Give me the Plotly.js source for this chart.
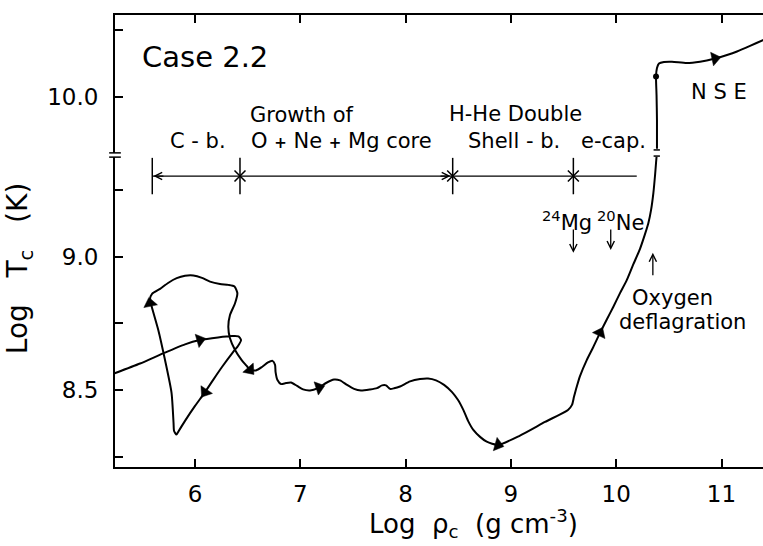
<!DOCTYPE html>
<html>
<head>
<meta charset="utf-8">
<script src="https://cdn.plot.ly/plotly-3.0.1.min.js"></script>
<style>html,body{margin:0;padding:0;background:#fff;}#chart{width:763px;height:546px;}</style>
</head>
<body>
<div id="chart"></div>
<script>
// ---- Data (Log rho_c, Log T_c) ----
// Track below the axis break (C-burning, core growth, shell burning, e-capture, deflagration)
const logRho = [5.22,5.478,5.696,5.905,6.047,6.218,6.351,6.413,6.437,6.408,6.361,6.256,6.171,6.095,6.000,5.905,5.848,5.824,5.801,5.796,5.777,5.715,5.651,5.589,5.573,5.592,5.668,5.744,5.826,5.905,5.984,6.066,6.142,6.237,6.316,6.375,6.402,6.380,6.332,6.316,6.332,6.380,6.443,6.491,6.522,6.579,6.636,6.693,6.736,6.760,6.765,6.783,6.817,6.864,6.912,6.969,7.026,7.092,7.168,7.244,7.320,7.377,7.443,7.510,7.576,7.662,7.728,7.776,7.814,7.852,7.890,7.947,8.042,8.137,8.213,8.289,8.365,8.441,8.498,8.548,8.593,8.643,8.707,8.770,8.878,9.086,9.324,9.542,9.580,9.599,9.625,9.656,9.720,9.780,9.846,9.913,9.973,10.036,10.100,10.160,10.226,10.274,10.305,10.331,10.353,10.369,10.378,10.383];
const logTc  = [8.560,8.599,8.637,8.671,8.687,8.697,8.702,8.701,8.687,8.665,8.642,8.586,8.537,8.492,8.440,8.384,8.348,8.333,8.346,8.376,8.489,8.612,8.725,8.812,8.841,8.860,8.879,8.901,8.919,8.928,8.929,8.920,8.906,8.897,8.894,8.888,8.863,8.825,8.781,8.737,8.694,8.650,8.612,8.590,8.575,8.573,8.586,8.603,8.609,8.594,8.567,8.537,8.522,8.526,8.528,8.515,8.502,8.498,8.507,8.526,8.539,8.536,8.519,8.504,8.498,8.502,8.507,8.517,8.517,8.504,8.506,8.513,8.532,8.541,8.543,8.536,8.519,8.492,8.462,8.425,8.384,8.350,8.324,8.306,8.294,8.329,8.380,8.425,8.444,8.474,8.512,8.552,8.612,8.659,8.714,8.766,8.812,8.863,8.912,8.969,9.029,9.085,9.125,9.175,9.239,9.306,9.351,9.374];
// Track above the axis break (NSE)
const logRhoNSE = [10.387,10.387,10.383,10.378,10.387,10.406,10.453,10.530,10.669,10.796,10.938,11.052,11.147,11.271,11.394,11.508];
const logTcNSE  = [9.804,9.912,10.006,10.075,10.107,10.124,10.130,10.131,10.126,10.131,10.143,10.156,10.169,10.190,10.212,10.231];
// Dot on the NSE track
const dotRho = [10.378], dotTc = [10.075];
// Direction arrows: from-point and tip-point
const arrowFromRho = [5.905,6.171,5.601,6.456,7.092,8.770,9.780,10.796];
const arrowFromTc  = [8.671,8.537,8.770,8.605,8.498,8.306,8.659,10.131];
const arrowRho     = [6.047,6.095,5.573,6.522,7.178,8.878,9.846,10.938];
const arrowTc      = [8.687,8.492,8.825,8.575,8.509,8.294,8.714,10.143];
// Phase bar
const phaseRho = [5.594,6.427,8.447,9.593];
const phaseEndRho = 10.195;
const phaseTc = 9.302;
// Axis ticks
const xTicks = [6,7,8,9,10,11];
const yTickVals = [8.25,8.5,8.75,9.0,9.25,10.0,10.25];
const yTickText = ['','8.5','','9.0','','10.0',''];
// Axis break: values above BREAK_T are shifted down by BREAK_GAP
const BREAK_GAP = 0.4, BREAK_T = 9.6;
const brk = t => t > BREAK_T ? t - BREAK_GAP : t;

const FONT = 'DejaVu Sans, sans-serif';
const K = '#000';

const traces = [];
traces.push({x: logRho, y: logTc.map(brk), mode:'lines', line:{color:K, width:2, shape:'spline', smoothing:0.6}, hoverinfo:'skip'});
traces.push({x: logRhoNSE, y: logTcNSE.map(brk), mode:'lines', line:{color:K, width:2, shape:'spline', smoothing:0.6}, hoverinfo:'skip'});
traces.push({x: dotRho, y: dotTc.map(brk), mode:'markers', marker:{color:K, size:6}, hoverinfo:'skip'});
// arrows
const ax = [], ay = [], as = [];
for (let i = 0; i < arrowRho.length; i++) {
  ax.push(arrowFromRho[i], arrowRho[i]);
  ay.push(brk(arrowFromTc[i]), brk(arrowTc[i]));
  as.push(0, 12);
}
traces.push({x: ax, y: ay, mode:'markers', marker:{symbol:'triangle-up', size:as, color:K, opacity:1, angleref:'previous', line:{width:0.5, color:K}}, hoverinfo:'skip'});
// phase bar line
traces.push({x:[phaseRho[0], phaseEndRho], y:[phaseTc, phaseTc], mode:'lines', line:{color:K, width:1.3}, hoverinfo:'skip'});
traces.push({x: phaseRho, y: phaseRho.map(()=>phaseTc), mode:'markers', marker:{symbol:'line-ns-open', size:26, color:K, line:{color:K, width:1.5}}, hoverinfo:'skip'});
traces.push({x: phaseRho.slice(1), y: phaseRho.slice(1).map(()=>phaseTc), mode:'markers', marker:{symbol:'x-thin-open', size:11, color:K, line:{color:K, width:1.5}}, hoverinfo:'skip'});

const ann = [];
function txt(text, x, y, size, opts) {
  ann.push(Object.assign({text, x, y, xref:'x', yref:'y', xanchor:'center', yanchor:'middle', showarrow:false, font:{family:FONT, size:size, color:K}}, opts||{}));
}
const PLUS = '<span style="font-size:15px;font-weight:bold">+</span>';
txt('Case 2.2', 5.478, 9.747, 29, {xanchor:'left'});
txt('Growth of', 7.013, 9.531, 21);
txt('C - b.', 6.028, 9.434, 21);
txt('O ' + PLUS + ' Ne ' + PLUS + ' Mg core', 7.393, 9.434, 21);
txt('H-He Double', 9.039, 9.535, 21);
txt('Shell - b.', 9.029, 9.434, 21);
txt('e-cap.', 9.970, 9.434, 21);
txt('N S E', 10.976, 9.618, 21);
txt('<sup>24</sup>Mg', 9.785, 9.134, 21, {xanchor:'right'});
txt('<sup>20</sup>Ne', 9.800, 9.134, 21, {xanchor:'left'});
txt('Oxygen', 10.530, 8.845, 21);
txt('deflagration', 10.634, 8.755, 21);

// simple arrows (Mg, Ne, oxygen deflagration)
function arr(x, yFrom, yTo) {
  ann.push({x:x, y:yTo, ax:x, ay:yFrom, xref:'x', yref:'y', axref:'x', ayref:'y', text:'', showarrow:true, arrowhead:5, arrowsize:1.1, arrowwidth:1.3, arrowcolor:K});
}
arr(9.593, 9.107, 9.014);
arr(9.948, 9.107, 9.025);
arr(10.348, 8.924, 9.014);
// phase bar arrowheads
ann.push({x:phaseRho[0]+0.01, y:phaseTc, ax:phaseRho[0]+0.12, ay:phaseTc, xref:'x', yref:'y', axref:'x', ayref:'y', text:'', showarrow:true, arrowhead:5, arrowsize:1.1, arrowwidth:1.3, arrowcolor:K});
ann.push({x:phaseRho[2]-0.02, y:phaseTc, ax:phaseRho[2]-0.13, ay:phaseTc, xref:'x', yref:'y', axref:'x', ayref:'y', text:'', showarrow:true, arrowhead:5, arrowsize:1.1, arrowwidth:1.3, arrowcolor:K});

// axis titles
ann.push({text:'Log&nbsp;&nbsp;&nbsp;T<sub>c</sub>&nbsp;&nbsp;&nbsp;(K)', xref:'paper', yref:'paper', x:-0.148, y:0.44, xanchor:'center', yanchor:'middle', showarrow:false, textangle:-90, font:{family:FONT, size:28, color:K}});
ann.push({text:'Log&nbsp;&nbsp;ρ<sub>c</sub>&nbsp;&nbsp;(g cm<sup>-3</sup>)', xref:'paper', yref:'paper', x:0.553, y:-0.125, xanchor:'center', yanchor:'middle', showarrow:false, font:{family:FONT, size:26, color:K}});

// axis break marks
const bY = brk(9.381);
const shapes = [
  {type:'rect', xref:'paper', yref:'y', x0:-0.012, x1:0.012, y0:bY-0.008, y1:bY+0.008, fillcolor:'#fff', line:{width:0}},
  {type:'line', xref:'paper', yref:'y', x0:-0.009, x1:0.009, y0:bY-0.008, y1:bY-0.008, line:{color:K, width:1.5}},
  {type:'line', xref:'paper', yref:'y', x0:-0.009, x1:0.009, y0:bY+0.008, y1:bY+0.008, line:{color:K, width:1.5}},
  {type:'line', xref:'x', yref:'y', x0:10.355, x1:10.415, y0:9.377, y1:9.377, line:{color:K, width:1.5}},
  {type:'line', xref:'x', yref:'y', x0:10.355, x1:10.415, y0:9.400, y1:9.400, line:{color:K, width:1.5}}
];

const layout = {
  width:763, height:546,
  margin:{l:115, r:0, t:15, b:79},
  paper_bgcolor:'#fff', plot_bgcolor:'#fff',
  showlegend:false,
  xaxis:{range:[5.24, 11.394], tickvals:xTicks, ticktext:xTicks.map(String), ticks:'inside', ticklen:8, tickwidth:2, tickcolor:K,
         showline:true, linewidth:2, linecolor:K, mirror:'ticks', showgrid:false, zeroline:false,
         tickfont:{family:FONT, size:23, color:K}, ticklabelstandoff:5},
  yaxis:{range:[8.211, 9.906], tickvals:yTickVals.map(brk), ticktext:yTickText, ticks:'inside', ticklen:8, tickwidth:2, tickcolor:K,
         showline:true, linewidth:2, linecolor:K, mirror:false, showgrid:false, zeroline:false,
         tickfont:{family:FONT, size:23, color:K}, ticklabelstandoff:10},
  annotations: ann,
  shapes: shapes
};
Plotly.newPlot('chart', traces, layout, {staticPlot:true, displayModeBar:false});
</script>
</body>
</html>
